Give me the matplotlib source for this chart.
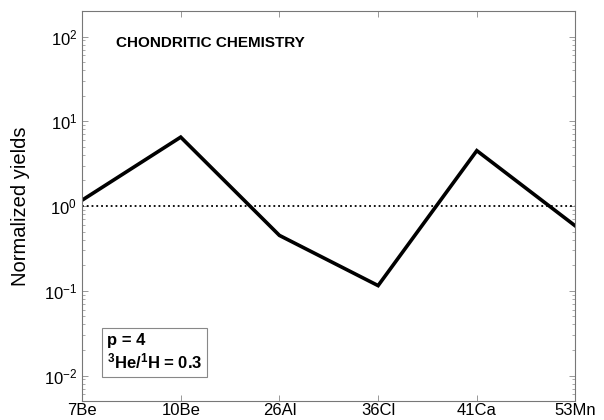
import numpy as np
import matplotlib
matplotlib.use('Agg')
import matplotlib.pyplot as plt

plt.rcParams['font.family'] = ['Liberation Sans', 'DejaVu Sans']
plt.rcParams['mathtext.fontset'] = 'custom'
plt.rcParams['mathtext.rm'] = 'Liberation Sans'
plt.rcParams['mathtext.bf'] = 'Liberation Sans:bold'

# isotopes and normalized yields
isotopes = ['7Be', '10Be', '26Al', '36Cl', '41Ca', '53Mn']
yields = [1.17, 6.5, 0.45, 0.115, 4.5, 0.58]
ref_level = 1.0

fig = plt.figure(figsize=(6.04, 4.20), dpi=100)
ax = fig.add_axes([0.1358, 0.0452, 0.8170, 0.9286])

x = np.arange(1, len(isotopes) + 1)
ax.plot(x, yields, color='black', lw=2.6, solid_joinstyle='miter')
ax.axhline(ref_level, color='black', ls=':', lw=1.3)

ax.set_yscale('log')
ax.set_ylim(0.005, 200)
ax.set_xlim(1, len(isotopes))
ax.set_xticks(x)
ax.set_xticklabels(isotopes, fontsize=12)
ax.set_yticks([1e-2, 1e-1, 1e0, 1e1, 1e2])
ax.tick_params(axis='y', labelsize=12)
ax.tick_params(which='both', direction='in', top=True, right=True, color='#888888')
ax.tick_params(which='major', length=4, width=0.6)
ax.tick_params(which='minor', length=2, width=0.5)
ax.tick_params(axis='x', pad=1.5)
for s in ax.spines.values():
    s.set_color('#777777')
    s.set_linewidth(0.8)

ax.set_ylabel('Normalized yields', fontsize=14.5, labelpad=10)

ax.text(0.068, 0.935, 'CHONDRITIC CHEMISTRY', transform=ax.transAxes,
        fontsize=11, fontweight='bold', va='top', ha='left')

ax.text(0.05, 0.075, 'p = 4\n$\\mathbf{^3}$He/$\\mathbf{^1}$H = 0.3', transform=ax.transAxes,
        fontsize=12, fontweight='bold', va='bottom', ha='left', linespacing=1.2,
        bbox=dict(boxstyle='square,pad=0.3', fc='white', ec='#888888', lw=0.8))

fig.savefig('out.png', dpi=100)
